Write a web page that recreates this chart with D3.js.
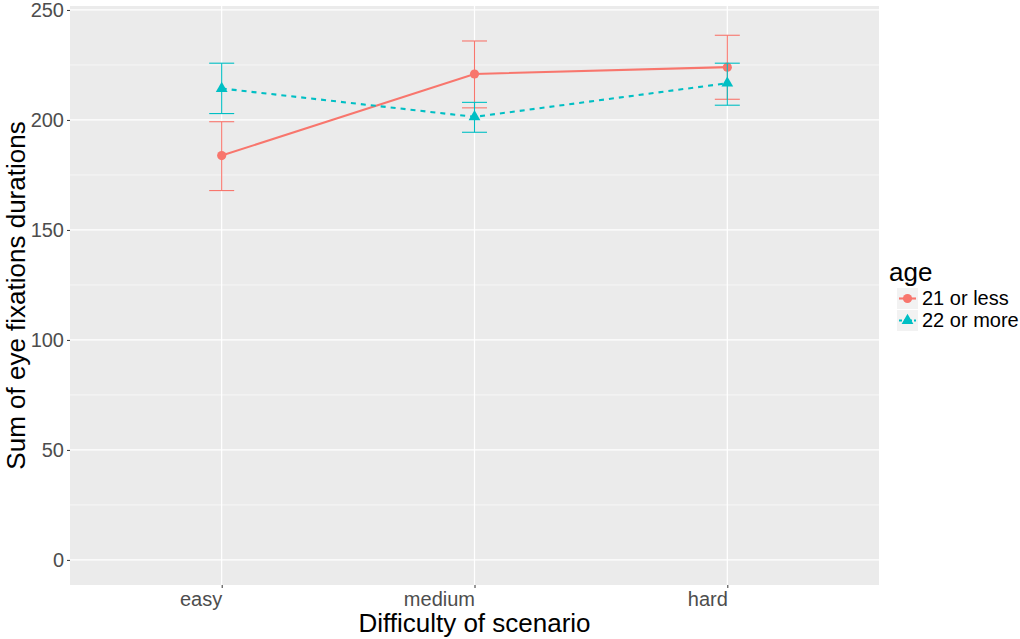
<!DOCTYPE html>
<html>
<head>
<meta charset="utf-8">
<script src="https://cdn.jsdelivr.net/npm/d3@7"></script>
<style>
  body { margin: 0; background: #fff; }
  text { font-family: "Liberation Sans", Arial, sans-serif; }
</style>
</head>
<body>
<svg width="1020" height="639"></svg>
<script>
// data
let categories = ["easy", "medium", "hard"];
let groups = ["21 or less", "22 or more"];
let means = [[183.8, 220.9, 224.0], [214.3, 201.4, 216.7]];
let lower = [[167.9, 205.5, 209.4], [202.9, 194.4, 206.7]];
let upper = [[199.2, 235.9, 238.5], [225.8, 208.0, 225.8]];
let yTicks = [0, 50, 100, 150, 200, 250];
let colors = ["#F8766D", "#00BFC4"];

let svg = d3.select("svg"),
  pLeft = 70, pRight = 879, pTop = 6, pBottom = 585;

let x = d3.scalePoint().domain(categories).range([pLeft, pRight]).padding(0.6);
let y = d3.scaleLinear().domain([-11.4, 251.8]).range([pBottom, pTop]);

svg.append("rect")
  .attr("x", pLeft).attr("y", pTop)
  .attr("width", pRight - pLeft).attr("height", pBottom - pTop)
  .attr("fill", "#EBEBEB");

let minor = d3.range(25, 250, 50);
svg.selectAll(".minor").data(minor).enter().append("line")
  .attr("x1", pLeft).attr("x2", pRight)
  .attr("y1", d => y(d)).attr("y2", d => y(d))
  .attr("stroke", "#fff").attr("stroke-width", 0.6);

svg.selectAll(".major").data(yTicks).enter().append("line")
  .attr("x1", pLeft).attr("x2", pRight)
  .attr("y1", d => y(d)).attr("y2", d => y(d))
  .attr("stroke", "#fff").attr("stroke-width", 1.2);

svg.selectAll(".vgrid").data(categories).enter().append("line")
  .attr("x1", d => x(d)).attr("x2", d => x(d))
  .attr("y1", pTop).attr("y2", pBottom)
  .attr("stroke", "#fff").attr("stroke-width", 1.2);

// axes
let yAxis = svg.append("g").attr("transform", "translate(" + pLeft + ",0)")
  .call(d3.axisLeft(y).tickValues(yTicks).tickSize(3).tickPadding(3));
let xAxis = svg.append("g").attr("transform", "translate(0," + pBottom + ")")
  .call(d3.axisBottom(x).tickSize(3).tickPadding(4));
[yAxis, xAxis].forEach(a => {
  a.select(".domain").remove();
  a.selectAll(".tick line").attr("stroke", "#333").attr("stroke-width", 1);
  a.selectAll("text").attr("fill", "#4D4D4D").style("font-size", "20px")
    .style("font-family", "Liberation Sans, Arial, sans-serif");
});
// x labels are right-justified on their tick
xAxis.selectAll("text").attr("text-anchor", "end").attr("dy", "0.72em");

svg.append("text")
  .attr("x", (pLeft + pRight) / 2).attr("y", 632)
  .attr("text-anchor", "middle")
  .style("font-size", "26px")
  .text("Difficulty of scenario");

svg.append("text")
  .attr("transform", "translate(25," + (pTop + pBottom) / 2 + ") rotate(-90)")
  .attr("text-anchor", "middle")
  .style("font-size", "26px")
  .text("Sum of eye fixations durations");

// series
groups.forEach((gName, gi) => {
  let pts = categories.map((c, i) => ({ c: c, m: means[gi][i], lo: lower[gi][i], hi: upper[gi][i] }));
  let g = svg.append("g");

  let eb = g.selectAll(".eb").data(pts).enter().append("g").attr("stroke", colors[gi]).attr("stroke-width", 1.1);
  eb.append("line").attr("x1", d => x(d.c)).attr("x2", d => x(d.c))
    .attr("y1", d => y(d.lo)).attr("y2", d => y(d.hi));
  eb.append("line").attr("x1", d => x(d.c) - 12.5).attr("x2", d => x(d.c) + 12.5)
    .attr("y1", d => y(d.lo)).attr("y2", d => y(d.lo));
  eb.append("line").attr("x1", d => x(d.c) - 12.5).attr("x2", d => x(d.c) + 12.5)
    .attr("y1", d => y(d.hi)).attr("y2", d => y(d.hi));

  g.append("path")
    .datum(pts)
    .attr("fill", "none")
    .attr("stroke", colors[gi])
    .attr("stroke-width", 2.1)
    .attr("stroke-dasharray", gi === 1 ? "5,5" : null)
    .attr("d", d3.line().x(d => x(d.c)).y(d => y(d.m)));

  let sym = d3.symbol().type(gi === 0 ? d3.symbolCircle : d3.symbolTriangle).size(gi === 0 ? 66 : 60);
  g.selectAll(".pt").data(pts).enter().append("path")
    .attr("transform", d => "translate(" + x(d.c) + "," + y(d.m) + ")")
    .attr("d", sym)
    .attr("fill", colors[gi]);
});

// legend
let leg = svg.append("g");
leg.append("text").attr("x", 889).attr("y", 281).style("font-size", "26px").text("age");
groups.forEach((gName, gi) => {
  let ky = 288 + gi * 22;
  leg.append("rect").attr("x", 897).attr("y", ky).attr("width", 21).attr("height", 21).attr("fill", "#F2F2F2");
  leg.append("line").attr("x1", 899).attr("x2", 916).attr("y1", ky + 10.5).attr("y2", ky + 10.5)
    .attr("stroke", colors[gi]).attr("stroke-width", 2.1)
    .attr("stroke-dasharray", gi === 1 ? "3,2" : null);
  leg.append("path")
    .attr("transform", "translate(907.5," + (ky + 10.5) + ")")
    .attr("d", d3.symbol().type(gi === 0 ? d3.symbolCircle : d3.symbolTriangle).size(gi === 0 ? 66 : 60))
    .attr("fill", colors[gi]);
  leg.append("text").attr("x", 922).attr("y", ky + 17).style("font-size", "20px").text(gName);
});
</script>
</body>
</html>
